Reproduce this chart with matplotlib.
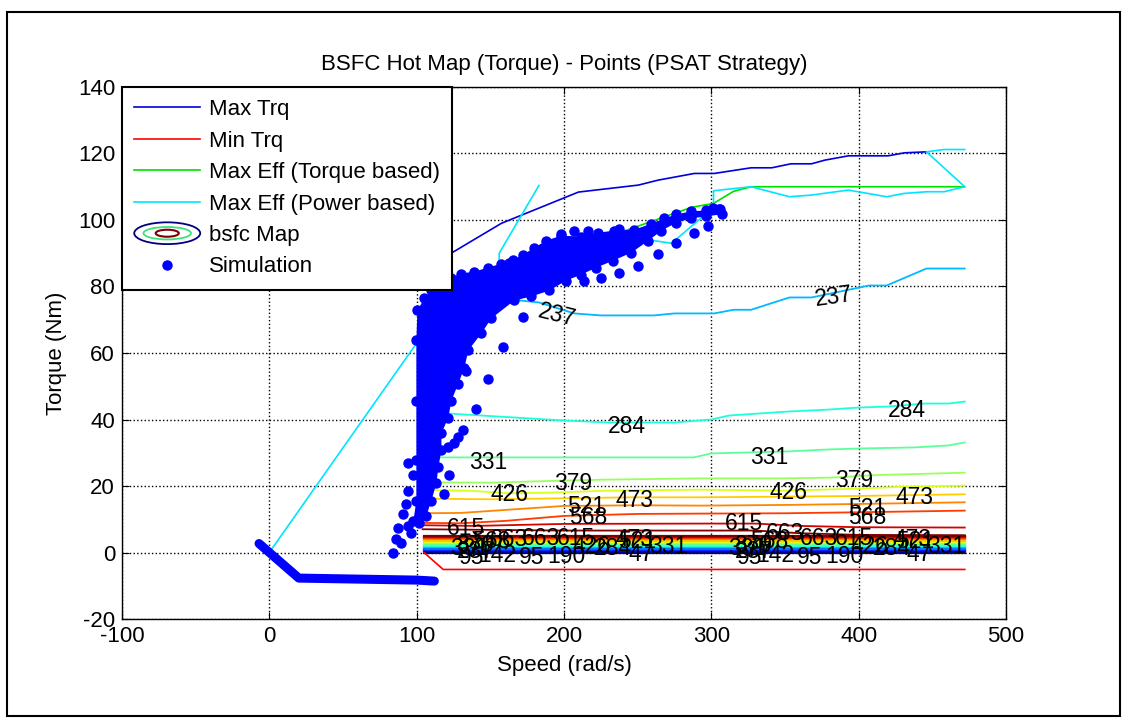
import numpy as np
import matplotlib
matplotlib.use('Agg')
import matplotlib.pyplot as plt
from matplotlib.patches import Ellipse, Polygon, Rectangle

plt.rcParams['font.family'] = ['Liberation Sans', 'DejaVu Sans']
plt.rcParams['font.size'] = 16
plt.rcParams['axes.unicode_minus'] = False

# engine torque envelopes
max_trq_x = [104, 121.5, 157.5, 209.8, 250.5, 264, 288.5, 302, 327, 341, 354, 368, 377, 393, 420, 431, 446]
max_trq_y = [84, 89.5, 99, 108.4, 110.5, 112, 114, 114, 115.7, 115.7, 116.9, 116.9, 118, 119.3, 119.3, 120.2, 120.5]
min_trq_x = [105, 118, 472]
min_trq_y = [0, -5.1, -5.1]
eff_trq_x = [104, 112, 130, 156, 162, 180, 230, 286.5, 301.5, 315, 327, 472]
eff_trq_y = [80.3, 78.2, 80, 85.4, 85.7, 89.3, 95, 103.8, 105, 108.6, 110, 110]
eff_pwr_x = [0, 104, 115.4, 140, 156, 156, 183, np.nan,
             200, 261, 273, 301.5, 301.5, 327, 353, 368, 393, 419, 431, 446, 458, 472, 446, 458, 472]
eff_pwr_y = [0, 65.5, 72.8, 80, 85.4, 90, 110.4, np.nan,
             88, 93.8, 93, 103.8, 108.8, 110, 107, 107.5, 109, 107, 108, 108.5, 108.5, 110, 120.5, 121.2, 121.2]

# bsfc contour levels (g/kWh)
bsfc_levels = [47, 95, 142, 190, 237, 284, 331, 379, 426, 473, 521, 568, 615, 663]
band_x = [105, 472]
band_y = [0.0, 0.4, 0.8, 1.2, 1.6, 2.0, 2.4, 2.8, 3.2, 3.6, 4.0, 4.3, 4.7, 5.1]

c237_x = [104, 120, 150, 170, 183, 207, 225, 261, 275, 302, 315, 327, 353, 368, 407, 419, 446, 472]
c237_y = [80, 79, 77, 75.8, 75.2, 71.9, 71.3, 71.3, 71.9, 71.9, 73, 73, 76.7, 76.7, 80.3, 80.3, 85.4, 85.4]
c284_x = [104, 121.5, 144, 200, 230, 275, 300, 312, 352, 380, 400, 420, 445, 461, 472]
c284_y = [42.5, 41.8, 41.2, 39.7, 39.1, 39.1, 40, 41.2, 42.4, 43, 43.6, 43.9, 44.8, 44.8, 45.4]
c331_x = [104, 137, 160, 239, 288, 300, 352, 380, 402, 438, 461, 472]
c331_y = [28.6, 28.6, 28.6, 28.6, 28.6, 29.8, 30.4, 31, 31.3, 31.6, 32.2, 33.1]
c379_x = [104, 150, 197, 226, 293, 348, 380, 413, 472]
c379_y = [21.1, 21, 21.6, 21.9, 22.3, 22.3, 22.5, 23.3, 24]
c426_x = [104, 135, 163, 190, 230, 293, 350, 400, 430, 472]
c426_y = [18.8, 18.6, 17.8, 18.0, 18.6, 18.9, 18.6, 19.2, 19.8, 20.1]
c473_x = [104, 150, 200, 246, 293, 350, 400, 440, 472]
c473_y = [16.2, 16.0, 16.3, 16.6, 16.6, 16.8, 17.0, 17.3, 17.5]
c521_x = [104, 130, 160, 200, 250, 293, 350, 400, 472]
c521_y = [11.8, 11.9, 12.8, 14.0, 14.2, 14.1, 14.3, 14.6, 15.1]
c568_x = [104, 130, 160, 200, 250, 293, 350, 400, 472]
c568_y = [8.9, 8.8, 9.5, 11.0, 11.6, 11.7, 11.8, 12.1, 12.6]
c615_x = [104, 140, 200, 293, 330, 360, 400, 472]
c615_y = [8.2, 8.0, 8.6, 8.7, 8.7, 8.0, 7.6, 7.5]
c663_x = [104, 150, 200, 293, 330, 360, 400, 472]
c663_y = [7.0, 6.8, 6.6, 6.6, 6.6, 5.8, 5.3, 5.2]

upper_lines = {237: (c237_x, c237_y), 284: (c284_x, c284_y), 331: (c331_x, c331_y),
               379: (c379_x, c379_y), 426: (c426_x, c426_y), 473: (c473_x, c473_y),
               521: (c521_x, c521_y), 568: (c568_x, c568_y), 615: (c615_x, c615_y),
               663: (c663_x, c663_y)}

# clabel positions: (text, speed, torque, rotation)
upper_labels = [('237', 195.5, 71.3, -14), ('237', 383, 77.0, 8),
                ('284', 243, 38.0, 0), ('284', 432.5, 42.6, 0),
                ('331', 148.7, 27.1, 0), ('331', 339.5, 28.6, 0),
                ('379', 206.4, 20.8, 0), ('379', 397, 21.6, 0),
                ('426', 163, 17.4, 0), ('426', 352.3, 18.0, 0),
                ('473', 247.8, 15.6, 0), ('473', 438, 16.5, 0),
                ('521', 215, 13.8, 0), ('521', 406, 13.2, 0),
                ('568', 216.6, 10.5, 0), ('568', 406, 10.5, 0),
                ('615', 133.7, 7.2, 0), ('615', 322.5, 8.7, 0)]
band_labels = [('331', 135.8, 1.2), ('379', 139.9, 2.1), ('568', 150.7, 3.3),
               ('663', 162.9, 3.9), ('663', 184.7, 4.2), ('615', 208.4, 4.2),
               ('426', 218.6, 1.8), ('190', 201.6, -1.2), ('284', 233.5, 1.2),
               ('473', 247.8, 3.9), ('521', 249.8, 3.3), ('47', 252.5, -0.6),
               ('331', 270.9, 1.8), ('237', 140, 0.3), ('95', 137, -1.5),
               ('142', 155, -0.9), ('95', 178, -1.5),
               ('331', 324.5, 1.2), ('379', 328.6, 2.1), ('568', 339.4, 3.3),
               ('663', 350, 5.6), ('663', 373.4, 4.2), ('615', 397.1, 4.2),
               ('426', 407.3, 1.8), ('190', 390.3, -1.2), ('284', 422.2, 1.2),
               ('473', 436.5, 3.9), ('521', 438.5, 3.3), ('47', 441.2, -0.6),
               ('331', 459.6, 1.8), ('237', 328.7, 0.3), ('95', 325.7, -1.5),
               ('142', 343.7, -0.9), ('95', 366.7, -1.5)]

# simulated operating points
idle_x = [-7, 20, 60, 100, 112]
idle_y = [2.7, -7.7, -8.0, -8.3, -8.6]
core_x = [97.8, 99.8, 99.8, 99.8, 99.8, 100.5, 105.2, 110, 115.4, 123.6, 130.3, 139.2, 148.7,
          157.5, 165.6, 172.4, 179.9, 188, 198.2, 211.8, 223.3, 234.2, 247.8, 259.3, 268.2,
          276.3, 286.5, 296.7, 305.5, 306.9, 296.7, 286.5, 276.3, 266.1, 257.3, 245.8, 233.5,
          222, 211.8, 201.6, 190.1, 177.9, 166.3, 150.7, 143.9, 135.1, 132.4, 128.3, 123.6,
          121.5, 116.8, 116.8, 114.7, 113.4, 110, 106.6, 101.8]
core_y = [9.6, 15.6, 27.7, 45.7, 63.8, 72.8, 76.4, 78.8, 81.2, 82.7, 83.9, 84.5, 85.7,
          86.9, 88.1, 89.6, 91.7, 93.8, 95.3, 95, 96.2, 96.8, 97.1, 98.9, 100.5,
          101.7, 102.6, 102.9, 103.2, 101.7, 101.1, 100.5, 99.2, 96.8, 93.8, 90.2, 87.8,
          85.7, 83.6, 81.8, 78.8, 77, 75.8, 70.4, 65.9, 60.8, 55.6, 50.8, 45.7,
          40.6, 35.8, 30.7, 25.6, 20.8, 15.6, 11.1, 9.0]
sim_x = [94.4, 97.8, 94.4, 93, 91, 87.6, 86.2, 84.2, 89.6, 94.4, 96.4, 172.4, 158.9, 133.7,
         148.7, 140.5, 131.7, 128.3, 125.6, 121.5, 122.2, 118.8, 276.3, 288.5, 298, 264.1,
         250.5, 237.6, 225.4, 213.8, 207, 216.6, 237.6, 198.2, 163, 301, 306]
sim_y = [26.8, 23.2, 18.6, 14.7, 11.7, 7.5, 4.2, 0, 3.0, 8.1, 6.0, 70.7, 61.7, 54.7,
         52.3, 43.3, 36.7, 34.6, 32.8, 31.6, 23.2, 17.7, 93.2, 96.2, 98.3, 89.9,
         86.3, 84.2, 82.7, 81.8, 96.8, 96.8, 97.4, 95.9, 87.2, 103.5, 103.3]

fig = plt.figure(figsize=(11.27, 7.19), dpi=100)
ax = fig.add_axes([0.10825, 0.13908, 0.78439, 0.73992])
fig.patches.append(Rectangle((7 / 1127, 3 / 719), 1113 / 1127, 704 / 719, transform=fig.transFigure,
                             fill=False, edgecolor='black', linewidth=1.5))

cmap = plt.get_cmap('jet')
lev_min, lev_max = bsfc_levels[0], bsfc_levels[-1]


def lev_color(lev):
    return cmap((lev - lev_min) / (lev_max - lev_min))


for lev, by in zip(bsfc_levels, band_y):
    ax.plot(band_x, [by, by], color=lev_color(lev), lw=1.6, zorder=2)
for lev, (lx, ly) in upper_lines.items():
    ax.plot(lx, ly, color=lev_color(lev), lw=1.3, zorder=2)

h_max, = ax.plot(max_trq_x, max_trq_y, color='#0000dd', lw=1.2, zorder=3)
h_min, = ax.plot(min_trq_x, min_trq_y, color='red', lw=1.2, zorder=3)
h_efft, = ax.plot(eff_trq_x, eff_trq_y, color='#00e000', lw=1.2, zorder=3)
h_effp, = ax.plot(eff_pwr_x, eff_pwr_y, color='#00e5ff', lw=1.2, zorder=3)

ax.add_patch(Polygon(np.column_stack([core_x, core_y]), closed=True, facecolor='blue',
                     edgecolor='none', zorder=4))
ax.plot(idle_x, idle_y, color='blue', lw=6.5, solid_capstyle='round', solid_joinstyle='round', zorder=4)
ax.plot(core_x, core_y, 'o', color='blue', ms=6.5, zorder=4)
h_sim, = ax.plot(sim_x, sim_y, 'o', color='blue', ms=6.5, zorder=4)

for txt, sx, ty, rot in upper_labels:
    ax.text(sx, ty, txt, ha='center', va='center', rotation=rot, fontsize=16.5, zorder=5)
for txt, sx, ty in band_labels:
    ax.text(sx, ty, txt, ha='center', va='center', fontsize=16.5, zorder=5)

ax.set_xlim(-100, 500)
ax.set_ylim(-20, 140)
ax.set_xticks(range(-100, 501, 100))
ax.set_yticks(range(-20, 141, 20))
ax.tick_params(direction='in', top=True, right=True, length=5, pad=5)
ax.grid(True, color='black', linestyle=':', linewidth=1)
ax.set_axisbelow(True)
for sp in ax.spines.values():
    sp.set_linewidth(1)
ax.set_xlabel('Speed (rad/s)', labelpad=6)
ax.set_ylabel('Torque (Nm)', labelpad=8)
ax.set_title('BSFC Hot Map (Torque) - Points (PSAT Strategy)', fontsize=16, pad=12)


class BsfcHandler:
    def legend_artist(self, legend, orig_handle, fontsize, handlebox):
        x0, y0 = handlebox.xdescent, handlebox.ydescent
        w, h = handlebox.width, handlebox.height
        cx, cy = x0 + w / 2, y0 + h / 2
        tr = handlebox.get_transform()
        outer = Ellipse((cx, cy), w, h * 1.4, facecolor='white', edgecolor='#000080', lw=1.3, transform=tr)
        mid = Ellipse((cx, cy), w * 0.72, h * 0.8, facecolor='none', edgecolor='#40e080', lw=1.3, transform=tr)
        inner = Ellipse((cx, cy), w * 0.35, h * 0.45, facecolor='none', edgecolor='#800000', lw=1.5, transform=tr)
        for p in (outer, mid, inner):
            handlebox.add_artist(p)
        return outer


bsfc_proxy = Rectangle((0, 0), 1, 1)
leg = ax.legend([h_max, h_min, h_efft, h_effp, bsfc_proxy, h_sim],
                ['Max Trq', 'Min Trq', 'Max Eff (Torque based)', 'Max Eff (Power based)', 'bsfc Map', 'Simulation'],
                handler_map={Rectangle: BsfcHandler()}, loc='upper left', borderaxespad=0,
                fancybox=False, framealpha=1, edgecolor='black', fontsize=16, numpoints=1,
                handlelength=2.97, handletextpad=0.4, labelspacing=0.47, borderpad=0.55)
leg.get_frame().set_linewidth(1.5)
leg.set_zorder(10)

fig.savefig('out.png', dpi=100)
